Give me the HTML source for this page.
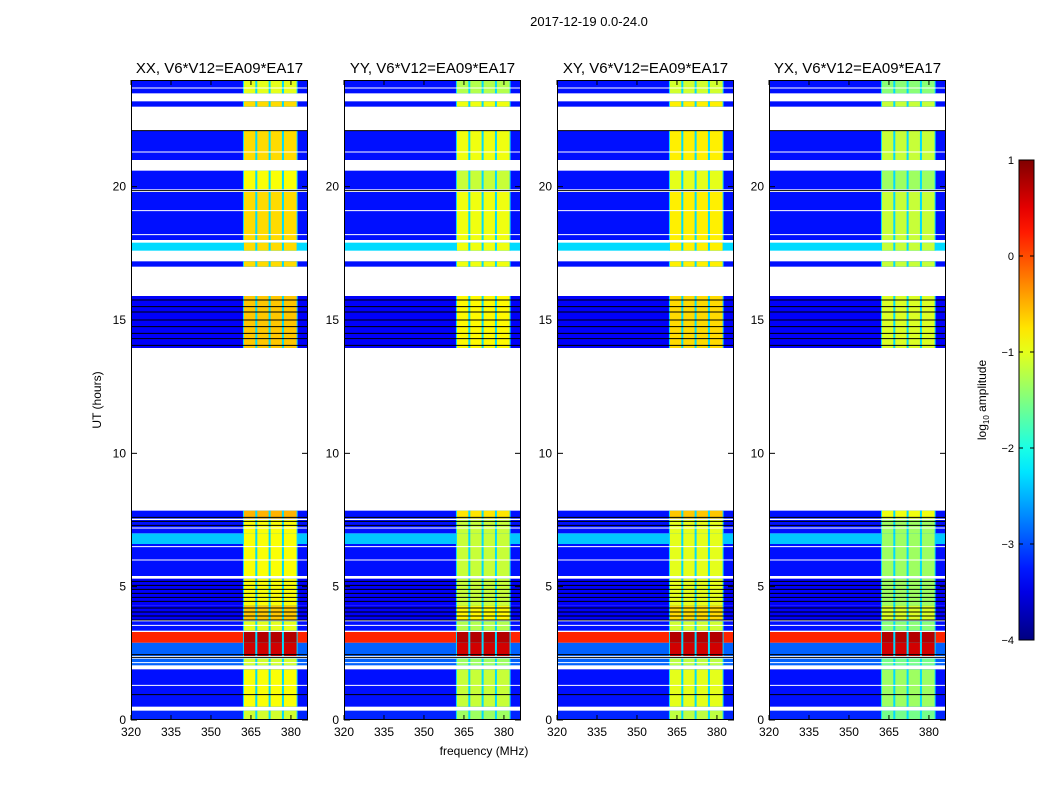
<!DOCTYPE html>
<html><head><meta charset="utf-8"><style>
body{margin:0;background:#fff;}
svg text{font-family:"Liberation Sans","DejaVu Sans",sans-serif;fill:#000;}
</style></head><body>
<svg id="chart" width="1050" height="800" xmlns="http://www.w3.org/2000/svg">
<text x="589" y="26" font-size="13" text-anchor="middle">2017-12-19 0.0-24.0</text>
<text x="484" y="755" font-size="12" text-anchor="middle">frequency (MHz)</text>
<text transform="translate(101,400) rotate(-90)" font-size="12" text-anchor="middle">UT (hours)</text>
<g id="panels"></g>
<g id="cbar"></g>
</svg>
<script>
// ---- data ----
const panelTitles = ["XX, V6*V12=EA09*EA17","YY, V6*V12=EA09*EA17","XY, V6*V12=EA09*EA17","YX, V6*V12=EA09*EA17"];
const panelHighOffset = [0, -0.25, -0.1, -0.45];
// time bands: start hour, end hour
const bandStart = [0.0,0.5,2.05,2.4,2.9,3.35,3.75,4.3,5.4,6.6,7.0,7.55,13.95,17.0,17.6,18.0,19.9,21.0,23.0,23.5];
const bandEnd   = [0.35,1.9,2.3,2.9,3.3,3.7,4.3,5.3,6.6,7.0,7.5,7.85,15.9,17.2,17.9,19.8,20.6,22.1,23.2,24.0];
// log10 amplitude in low band (320-362 MHz) and spectral windows (362-382.5 MHz)
const bandLow   = [-3.2,-3.3,-2.9,-2.9,0.2,-3.3,-3.4,-3.4,-3.3,-2.4,-3.3,-3.3,-3.4,-3.3,-2.3,-3.3,-3.3,-3.3,-3.3,-3.3];
const bandHigh  = [-1.1,-0.9,-1.1,0.6,0.75,-1.0,-0.6,-0.9,-0.9,-0.9,-0.9,-0.5,-0.6,-0.7,-0.7,-0.7,-0.9,-0.7,-0.7,-1.0];
const windowStart = [362,367,372,377];
const windowEnd   = [367,372,377,382.5];
const gapLevel = -2.3;
const blackLines = [0.95,2.35,2.45,3.75,3.9,4.05,4.2,4.45,4.6,4.75,4.9,5.05,5.2,7.3,7.45,7.6,14.05,14.3,14.5,14.75,15.0,15.3,15.5,15.75,19.85,22.1];
const whiteLines = [1.3,2.15,3.55,6.0,6.5,7.2,18.2,19.1,21.3,23.7];
const xTicks = [320,335,350,365,380];
const yTicks = [0,5,10,15,20];
const cbarTicks = [1,0,-1,-2,-3,-4];

// ---- geometry ----
const panelLeft = [131,344,557,769], PW=177, PT=80, PH=640;
const xMin=320, xMax=386.4, yMin=0, yMax=24, vMin=-4, vMax=1;
function jet(v){
  let t=(v-vMin)/(vMax-vMin); t=Math.max(0,Math.min(1,t));
  const f=x=>Math.round(255*Math.max(0,Math.min(1,x)));
  return `rgb(${f(1.5-Math.abs(4*t-3))},${f(1.5-Math.abs(4*t-2))},${f(1.5-Math.abs(4*t-1))})`;
}
const NS="http://www.w3.org/2000/svg";
function mk(tag,attrs,parent){const e=document.createElementNS(NS,tag);for(const k in attrs)e.setAttribute(k,attrs[k]);parent.appendChild(e);return e;}
const root=document.getElementById('panels');
panelLeft.forEach((L,p)=>{
  const xs=f=>L+(f-xMin)/(xMax-xMin)*PW;
  const ys=h=>PT+PH-(h-yMin)/(yMax-yMin)*PH;
  const g=mk('g',{},root);
  
  
  const t=mk('text',{x:L+PW/2,y:73,'font-size':15,'text-anchor':'middle'},g);
  t.textContent=panelTitles[p];
  
  
  bandStart.forEach((s,i)=>{
    const y0=ys(bandEnd[i]), y1=ys(s);
    const r=mk('rect',{x:xs(xMin),y:y0,width:xs(xMax)-xs(xMin),height:y1-y0,fill:jet(bandLow[i])},g);
    
    
    const gp=mk('rect',{x:xs(windowStart[0]),y:y0,width:xs(windowEnd[windowEnd.length-1])-xs(windowStart[0]),height:y1-y0,fill:jet(gapLevel)},g);
    
    
    const off = bandHigh[i]>0.3 ? 0 : panelHighOffset[p];
    windowStart.forEach((ws,w)=>{
      const c=mk('rect',{x:xs(ws)+1,y:y0,width:xs(windowEnd[w])-xs(ws)-2,height:y1-y0,fill:jet(bandHigh[i]+off)},g);
      
      
    });
  });
  whiteLines.forEach(h=>{const l=mk('line',{x1:L,x2:L+PW,y1:ys(h),y2:ys(h),stroke:'#fff','stroke-width':1},g);
    });
  blackLines.forEach(h=>{const l=mk('line',{x1:L,x2:L+PW,y1:ys(h),y2:ys(h),stroke:'#000','stroke-width':1},g);
    });
  const fr=mk('rect',{x:L+0.5,y:PT+0.5,width:PW-1,height:PH-1,fill:'none',stroke:'#000','stroke-width':1},g);
  
  xTicks.forEach(v=>{const x=xs(v);
    mk('line',{x1:x,x2:x,y1:PT+PH,y2:PT+PH-5,stroke:'#000'},g);
    mk('line',{x1:x,x2:x,y1:PT,y2:PT+5,stroke:'#000'},g);
    const tx=mk('text',{x:x,y:PT+PH+16,'font-size':12,'text-anchor':'middle'},g);tx.textContent=v;
    });
  yTicks.forEach(v=>{const y=ys(v);
    mk('line',{x1:L,x2:L+6,y1:y,y2:y,stroke:'#000'},g);
    mk('line',{x1:L+PW-6,x2:L+PW,y1:y,y2:y,stroke:'#000'},g);
    const ty=mk('text',{x:L-5,y:y+4,'font-size':12,'text-anchor':'end'},g);ty.textContent=v;
    });
});
// colorbar
const cb=document.getElementById('cbar');
const CX=1019,CW=15,CT=160,CH=480;
const defs=mk('defs',{},cb);
const grad=mk('linearGradient',{id:'jetg',x1:0,y1:1,x2:0,y2:0},defs);
for(let i=0;i<=20;i++){mk('stop',{offset:i/20,'stop-color':jet(vMin+(vMax-vMin)*i/20)},grad);}
mk('rect',{x:CX,y:CT,width:CW,height:CH,fill:'url(#jetg)',stroke:'#000'},cb);
cbarTicks.forEach(v=>{const y=CT+CH-(v-vMin)/(vMax-vMin)*CH;
  mk('line',{x1:CX,x2:CX+4,y1:y,y2:y,stroke:'#000'},cb);
  mk('line',{x1:CX+CW-4,x2:CX+CW,y1:y,y2:y,stroke:'#000'},cb);
  const t=mk('text',{x:CX-5,y:y+4,'font-size':11,'text-anchor':'end'},cb);t.textContent=(v<0?'\u2212'+(-v):v);
  });
const cl=mk('text',{transform:'translate(986,400) rotate(-90)','font-size':12,'text-anchor':'middle'},cb);
cl.innerHTML='log<tspan font-size="8" dy="3">10</tspan><tspan dy="-3"> amplitude</tspan>';


</script>
</body></html>
